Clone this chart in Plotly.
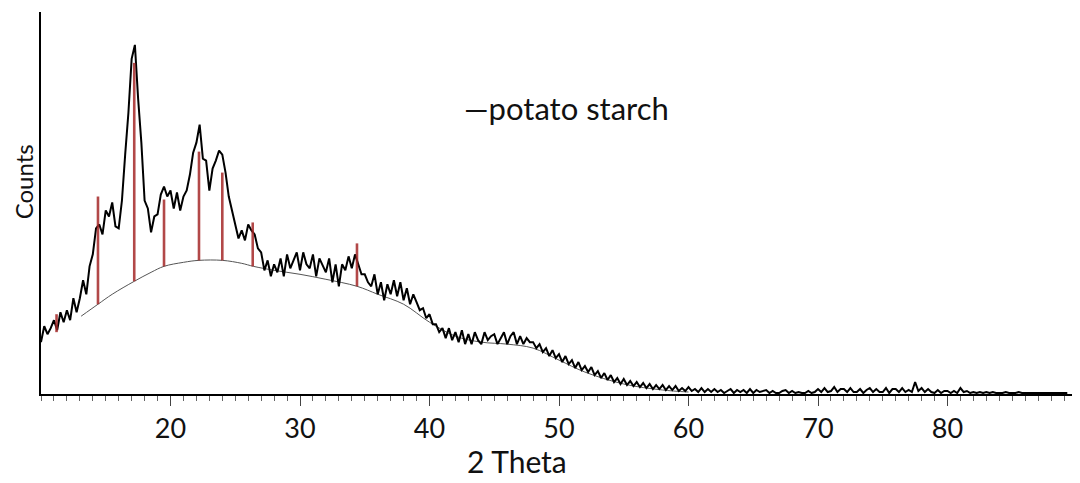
import numpy as np
import plotly.graph_objects as go

# 2-theta grid: 10.00 .. 89.25 in 0.25 steps (one row per degree below)
two_theta = np.arange(10.0, 89.26, 0.25)

counts = [
    52, 68, 60, 66,      # 10
    74, 64, 82, 72,      # 11
    84, 74, 96, 82,      # 12
    96, 114, 100, 128,   # 13
    140, 166, 170, 160,  # 14
    184, 178, 192, 168,  # 15
    166, 194, 240, 282,  # 16
    336, 350, 296, 252,  # 17
    194, 186, 162, 178,  # 18
    180, 200, 208, 198,  # 19
    204, 186, 202, 184,  # 20
    198, 204, 220, 242,  # 21
    252, 270, 236, 234,  # 22
    204, 226, 234, 244,  # 23
    240, 222, 198, 184,  # 24
    168, 156, 164, 154,  # 25
    170, 164, 160, 146,  # 26
    142, 124, 134, 118,  # 27
    130, 122, 136, 118,  # 28
    140, 126, 134, 142,  # 29
    124, 142, 130, 126,  # 30
    140, 118, 136, 128,  # 31
    122, 136, 112, 130,  # 32
    108, 130, 124, 138,  # 33
    126, 140, 130, 120,  # 34
    120, 112, 108, 120,  # 35
    100, 112, 94, 110,   # 36
    100, 114, 98, 112,   # 37
    94, 106, 90, 100,    # 38
    92, 84, 86, 76,      # 39
    80, 70, 70, 62,      # 40
    66, 56, 66, 54,      # 41
    62, 52, 64, 50,      # 42
    60, 50, 62, 54,      # 43
    50, 62, 54, 58,      # 44
    60, 50, 56, 62,      # 45
    50, 58, 62, 50,      # 46
    58, 50, 56, 52,      # 47
    52, 46, 50, 42,      # 48
    46, 38, 44, 36,      # 49
    40, 32, 38, 30,      # 50
    34, 26, 32, 24,      # 51
    28, 22, 27, 19,      # 52
    23, 16, 21, 14,      # 53
    19, 12, 16, 10,      # 54
    15, 9, 13, 8,        # 55
    12, 7, 11, 6,        # 56
    10, 5, 9, 5,         # 57
    9, 4, 8, 4,          # 58
    8, 3, 6, 3,          # 59
    7, 3, 5, 2,          # 60
    6, 2, 5, 2,          # 61
    5, 2, 4, 1,          # 62
    3, 5, 1, 4,          # 63
    2, 4, 1, 5,          # 64
    1, 4, 2, 3,          # 65
    4, 1, 3, 1,          # 66
    1, 3, 4, 1,          # 67
    3, 1, 2, 1,          # 68
    1, 3, 1, 2,          # 69
    5, 2, 6, 2,          # 70
    3, 7, 2, 5,          # 71
    5, 2, 6, 2,          # 72
    2, 5, 1, 4,          # 73
    6, 2, 5, 2,          # 74
    2, 6, 1, 5,          # 75
    5, 2, 6, 2,          # 76
    4, 2, 12, 3,         # 77
    6, 2, 5, 2,          # 78
    1, 4, 1, 3,          # 79
    3, 1, 3, 1,          # 80
    6, 2, 3, 1,          # 81
    2, 1, 2, 1,          # 82
    2, 1, 2, 1,          # 83
    1, 1, 2, 1,          # 84
    1, 1, 2, 1,          # 85
    1, 1, 1, 1,          # 86
    1, 1, 1, 1,          # 87
    1, 1, 1, 1,          # 88
    1, 1,                # 89
]

# amorphous background curve
bg_theta = [13.1, 14.4, 15.5, 17.2, 18.5, 19.5, 21.0, 22.2, 24.0, 25.5, 26.4,
            28.0, 30.0, 32.0, 34.4, 36.0, 38.0, 40.0, 42.0, 44.0, 46.0, 48.0,
            50.0, 52.0, 55.0, 58.0, 60.0]
bg_counts = [78, 90, 100, 113, 122, 128, 132, 134, 134, 131, 128,
             124, 120, 115, 108, 100, 90, 72, 58, 52, 50, 46,
             34, 22, 10, 4, 2]

# crystalline peak markers (red sticks)
stick_pos = [11.2, 14.4, 17.2, 19.5, 22.2, 24.0, 26.35, 34.4]
stick_top = [80, 198, 332, 195, 243, 222, 172, 151]
stick_base = [62, 90, 113, 128, 134, 134, 128, 108]

tick_vals = [20, 30, 40, 50, 60, 70, 80]
tick_text = ["20", "30", "40", "50", "60", "70", "80"]

sx, sy = [], []
for p, t, b in zip(stick_pos, stick_top, stick_base):
    sx += [p, p, None]
    sy += [b, t, None]

fig = go.Figure()
fig.add_trace(go.Scatter(x=bg_theta, y=bg_counts, mode="lines",
                         line=dict(color="#555555", width=1, shape="spline"),
                         hoverinfo="skip", showlegend=False))
fig.add_trace(go.Scatter(x=two_theta, y=counts, mode="lines",
                         line=dict(color="#000000", width=2),
                         showlegend=False))
fig.add_trace(go.Scatter(x=sx, y=sy, mode="lines",
                         line=dict(color="rgba(165,40,40,0.85)", width=2.6),
                         hoverinfo="skip", showlegend=False))

font_family = "Lato, 'Open Sans', sans-serif"

# page body has an 8px margin: figure is sized/offset to compensate
fig.update_layout(
    width=1072, height=475,
    margin=dict(l=33, r=3, t=4, b=89),
    paper_bgcolor="white", plot_bgcolor="white",
    font=dict(family=font_family, color="#111111"),
    xaxis=dict(range=[10, 90], showgrid=False, zeroline=False,
               showline=True, linecolor="#000000", linewidth=2,
               tickvals=tick_vals, ticktext=tick_text,
               ticks="outside", ticklen=10, tickwidth=1, tickcolor="#444444",
               tickfont=dict(size=27, family=font_family, color="#111111"),
               minor=dict(ticks="outside", ticklen=5, tickwidth=1,
                          tickcolor="#666666", dtick=1, tick0=10)),
    yaxis=dict(range=[0, 383], showgrid=False, zeroline=False,
               showline=True, linecolor="#000000", linewidth=2,
               showticklabels=False, ticks=""),
    annotations=[
        dict(text="2 Theta", xref="paper", yref="paper", x=0.459, y=0,
             xanchor="center", yanchor="middle", yshift=-67, showarrow=False,
             font=dict(size=30, family=font_family, color="#111111")),
        dict(text="Counts", xref="paper", yref="paper", x=0, y=0.554,
             xanchor="center", yanchor="middle", xshift=-18, textangle=-90,
             showarrow=False,
             font=dict(size=24, family=font_family, color="#111111")),
        dict(text="—potato starch", xref="paper", yref="paper", x=0.406, y=0.749,
             xanchor="left", yanchor="middle", showarrow=False,
             font=dict(size=31, family=font_family, color="#111111")),
    ],
)

fig.write_html("out.html")
